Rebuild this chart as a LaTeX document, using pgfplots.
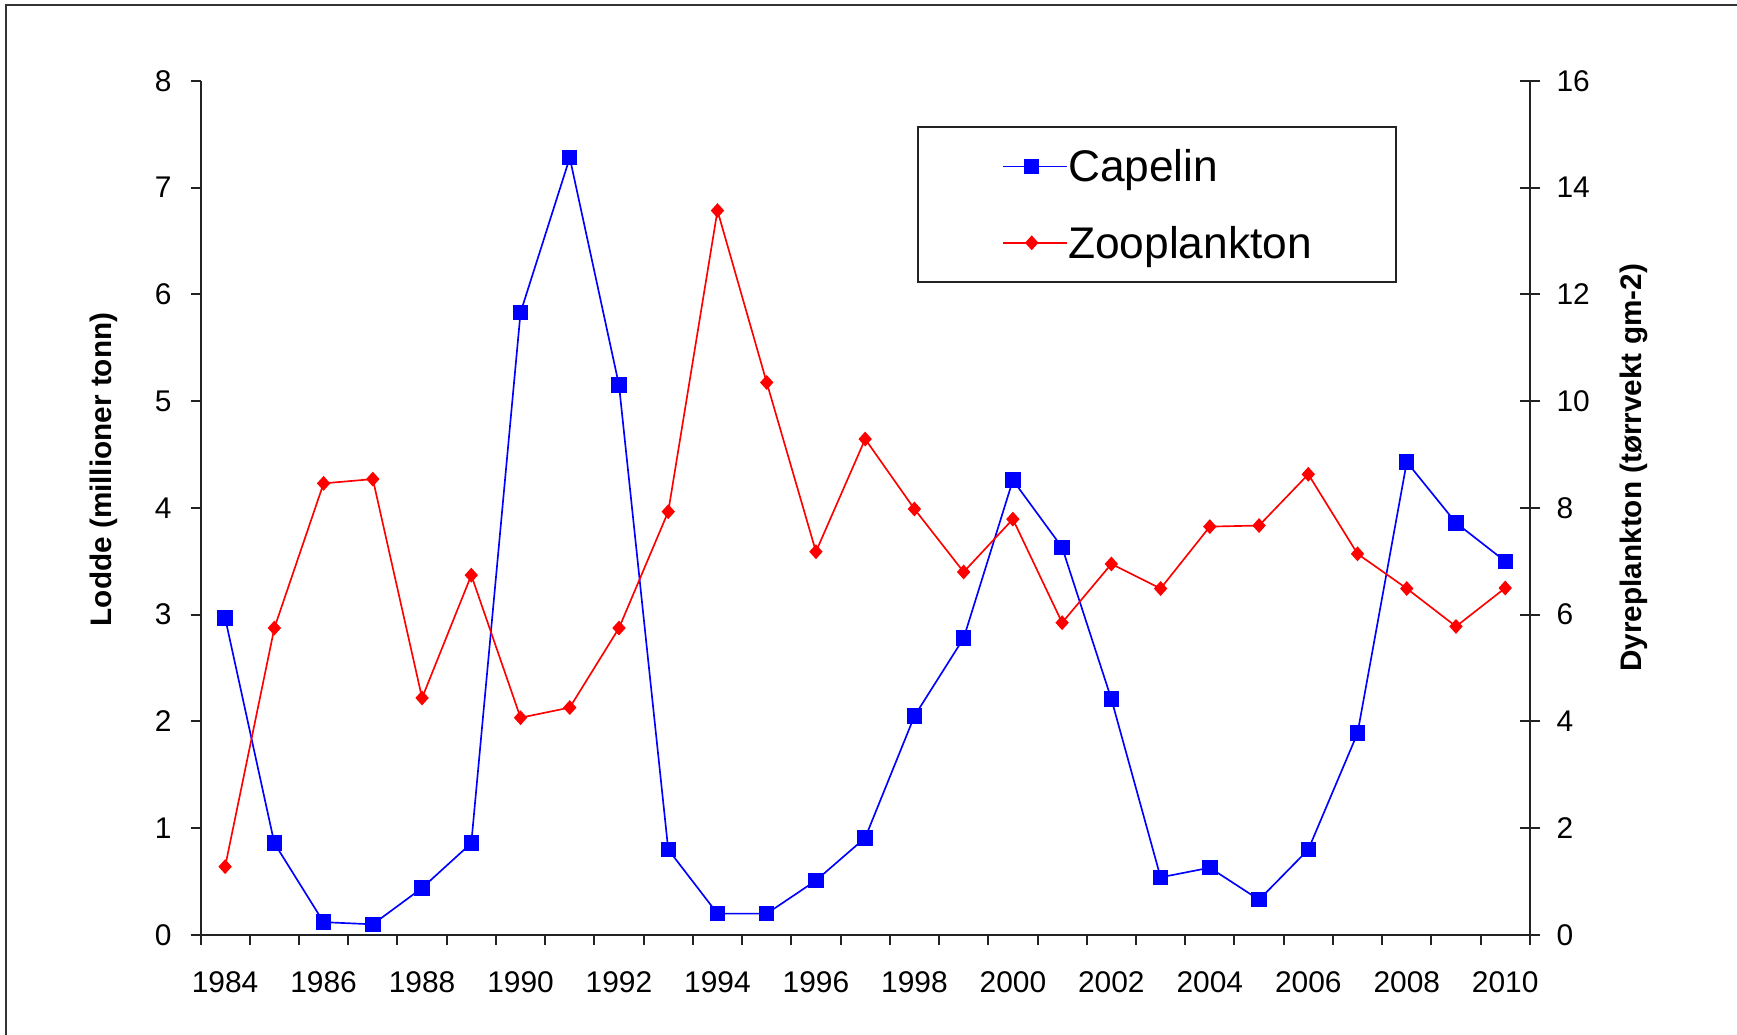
\documentclass[border=0pt]{standalone}
\usepackage{fontspec}
\setmainfont{Liberation Sans}
\usepackage{pgfplots}
\pgfplotsset{compat=1.18}
\definecolor{axgray}{RGB}{35,35,35}
\definecolor{capblue}{RGB}{0,0,255}
\definecolor{zoored}{RGB}{255,0,0}

\pgfplotstableread{
year capelin
0 2.97
1 0.86
2 0.12
3 0.10
4 0.44
5 0.86
6 5.83
7 7.28
8 5.15
9 0.80
10 0.20
11 0.20
12 0.51
13 0.91
14 2.05
15 2.78
16 4.26
17 3.63
18 2.21
19 0.54
20 0.63
21 0.33
22 0.80
23 1.89
24 4.43
25 3.86
26 3.50
}\capelintable

\pgfplotstableread{
year zoo
0 1.28
1 5.75
2 8.46
3 8.54
4 4.44
5 6.74
6 4.07
7 4.26
8 5.75
9 7.93
10 13.57
11 10.35
12 7.18
13 9.29
14 7.98
15 6.80
16 7.79
17 5.85
18 6.95
19 6.49
20 7.65
21 7.67
22 8.63
23 7.14
24 6.49
25 5.78
26 6.50
}\zootable

\begin{document}
\begin{tikzpicture}[x=1pt,y=1pt]
\useasboundingbox (0,0) rectangle (784,467);
\draw[line width=0.8pt, black!80] (2.7,0) -- (2.7,464.75) -- (784,464.75);

\pgfplotsset{
  /pgf/number format/assume math mode=true,
  every axis/.append style={
    scale only axis, width=600pt, height=385.5pt,
    at={(90.5pt,45pt)}, anchor=south west,
    xmin=-0.5, xmax=26.5,
    axis line style={line width=0.9pt, axgray},
    tick style={line width=0.9pt, axgray},
    tick label style={font=\fontsize{13.5}{16}\selectfont},
    major tick length=4.5pt,
    clip=false,
  },
}

\begin{axis}[
  ymin=0, ymax=8,
  axis x line*=bottom, axis y line*=left,
  tick align=outside,
  xtick={-0.5,0.5,...,26.5}, xticklabels={},
  extra x ticks={0,2,...,26},
  extra x tick labels={1984,1986,1988,1990,1992,1994,1996,1998,2000,2002,2004,2006,2008,2010},
  extra x tick style={major tick length=0pt, xticklabel style={yshift=-13pt}},
  ytick={0,1,...,8},
  yticklabel style={xshift=-5pt},
  ylabel={\bfseries Lodde (millioner tonn)},
  ylabel style={at={(axis description cs:-0.0725,0.545)}, rotate=0, anchor=center, font=\fontsize{13.4}{16}\selectfont},
]
\addplot[capblue, line width=0.75pt, mark=square*, mark size=3.1pt, mark options={solid, fill=capblue, draw=capblue}] table[x=year, y=capelin] {\capelintable};
\end{axis}

\begin{axis}[
  ymin=0, ymax=16,
  axis x line=none, axis y line*=right,
  tick align=center,
  major tick length=9pt,
  ytick={0,2,...,16},
  yticklabel style={xshift=4pt},
  ylabel={\bfseries Dyreplankton (tørrvekt gm-2)},
  ylabel style={at={(axis description cs:1.0783,0.547)}, rotate=0, anchor=center, font=\fontsize{13.4}{16}\selectfont},
  legend style={
    at={(axis description cs:0.539,0.947)}, anchor=north west,
    draw=axgray, line width=0.8pt, fill=white,
    font=\fontsize{20}{24}\selectfont,
    inner xsep=38pt, inner ysep=9.25pt,
    row sep=17.5pt,
    nodes={inner sep=0pt, text height=15.5pt, text depth=1.5pt},
  },
  legend cell align=left,
  legend image code/.code={
    \draw[mark repeat=2, mark phase=2, #1] plot coordinates {(0pt,0pt) (13pt,0pt) (26pt,0pt)};
    \path (26pt,0pt) -- (29pt,0pt);
  },
]
\addlegendimage{capblue, line width=0.75pt, mark=square*, mark size=3.1pt, mark options={solid, fill=capblue, draw=capblue}}
\addlegendentry{Capelin}
\addplot[zoored, line width=0.75pt, mark=diamond*, mark size=2.8pt, mark options={solid, fill=zoored, draw=zoored, xscale=1.2}] table[x=year, y=zoo] {\zootable};
\addlegendentry{Zooplankton}
\end{axis}
\end{tikzpicture}
\end{document}
